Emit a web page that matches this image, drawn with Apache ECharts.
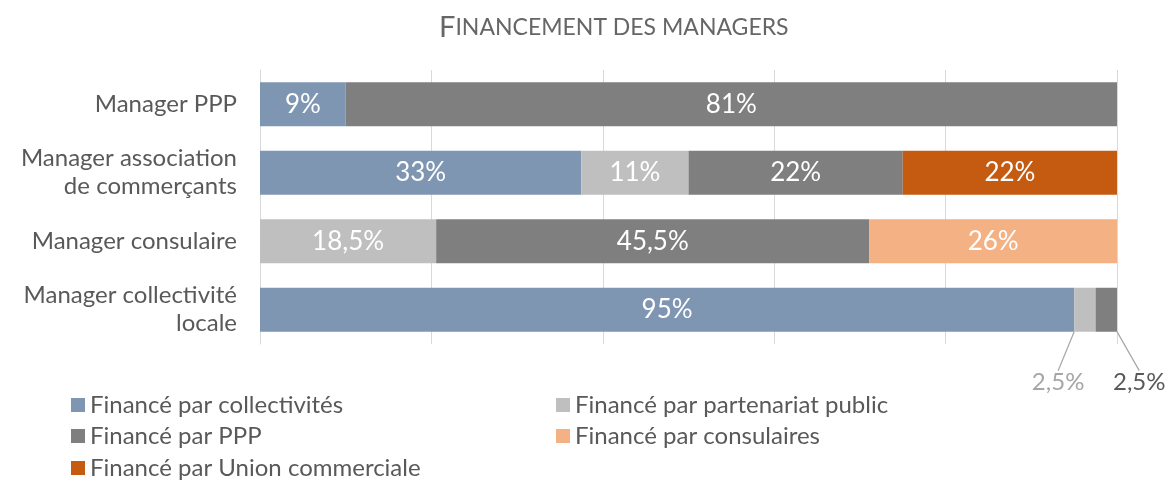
<!DOCTYPE html>
<html>
<head>
<meta charset="utf-8">
<script src="https://cdn.jsdelivr.net/npm/echarts@6/dist/echarts.min.js"></script>
<style>
    html, body { margin: 0; padding: 0; background: #fff; }
    #chart { width: 1174px; height: 480px; }
</style>
</head>
<body>
<div id="chart"></div>
<script>
// rows, top to bottom
var categories = ['Manager PPP', 'Manager association\nde commerçants', 'Manager consulaire', 'Manager collectivité\nlocale']
var seriesNames = ['Financé par collectivités', 'Financé par partenariat public', 'Financé par PPP', 'Financé par consulaires', 'Financé par Union commerciale']
var collectivites = [9, 33, null, 95]
var partenariat = [null, 11, 18.5, 2.5]
var ppp = [81, 22, 45.5, 2.5]
var consulaires = [null, null, 26, null]
var unionCom = [null, 22, null, null]
var colors = ['#7F96B2', '#BFBFBF', '#7F7F7F', '#F4B183', '#C55A11']

var FONT = 'Lato, "Open Sans", sans-serif'
var raw = [collectivites, partenariat, ppp, consulaires, unionCom]

// 100% stacked: share of each row total
var totals = categories.map(function (c, i) {
    var s = 0
    raw.forEach(function (arr) { s += arr[i] || 0 })
    return s
})

function fmt (v) {
    return String(v).replace('.', ',') + '%'
}

// small segments of the last row get a label outside with a leader line
var callout = { 1: '#A6A6A6', 2: '#595959' }

var series = raw.map(function (arr, si) {
    return {
        name: seriesNames[si],
        type: 'bar',
        stack: 'total',
        barCategoryGap: '36%',
        itemStyle: { color: colors[si] },
        label: {
            show: true,
            position: 'inside',
            color: '#fff',
            fontSize: 26,
            fontFamily: FONT,
            formatter: function (p) { return fmt(arr[p.dataIndex]) }
        },
        labelLine: { show: true, lineStyle: { color: '#A6A6A6', width: 1.2 } },
        labelLayout: function (p) {
            if (p.dataIndex !== 3 || !callout[si]) return {}
            if (si === 1) {
                return { x: p.rect.x + p.rect.width / 2 - 53, y: p.rect.y + p.rect.height + 39 }
            }
            return { x: p.rect.x + p.rect.width - 4, y: p.rect.y + p.rect.height + 39 }
        },
        data: arr.map(function (v, i) {
            if (v == null) return null
            var item = { value: v / totals[i] * 100 }
            if (i === 3 && callout[si]) {
                item.label = { color: callout[si], fontSize: 24 }
            } else {
                item.labelLine = { show: false }
            }
            return item
        })
    }
})

// one legend per item so the two columns line up
var legendSpots = [[66, 388], [551, 388], [66, 419], [551, 419], [66, 451]]
var legends = seriesNames.map(function (n, i) {
    return {
        data: [n],
        left: legendSpots[i][0],
        top: legendSpots[i][1],
        itemWidth: 14,
        itemHeight: 14,
        itemGap: 6,
        icon: 'rect',
        textStyle: { color: '#595959', fontSize: 24, fontFamily: FONT, padding: [0, 0, 0, 0] }
    }
})

var chart = echarts.init(document.getElementById('chart'), null, { renderer: 'canvas' })
chart.setOption({
    animation: false,
    title: {
        text: '{b|F}{s|INANCEMENT DES MANAGERS}',
        left: 434,
        top: 8,
        textStyle: {
            fontWeight: 'normal',
            rich: {
                b: { fontSize: 29, color: '#666666', fontFamily: FONT, fontWeight: 'normal' },
                s: { fontSize: 23, color: '#666666', fontFamily: FONT, fontWeight: 'normal' }
            }
        }
    },
    grid: { left: 260, right: 57, top: 70, bottom: 136 },
    xAxis: {
        type: 'value',
        min: 0,
        max: 100,
        interval: 20,
        axisLabel: { show: false },
        axisLine: { show: false },
        axisTick: { show: false },
        splitLine: { lineStyle: { color: '#D9D9D9', width: 1 } }
    },
    yAxis: {
        type: 'category',
        inverse: true,
        data: categories,
        axisLine: { show: true, lineStyle: { color: '#D9D9D9' } },
        axisTick: { show: false },
        axisLabel: {
            color: '#595959',
            fontSize: 24,
            fontFamily: FONT,
            lineHeight: 28,
            align: 'right',
            margin: 23
        }
    },
    legend: legends,
    series: series
})
</script>
</body>
</html>
